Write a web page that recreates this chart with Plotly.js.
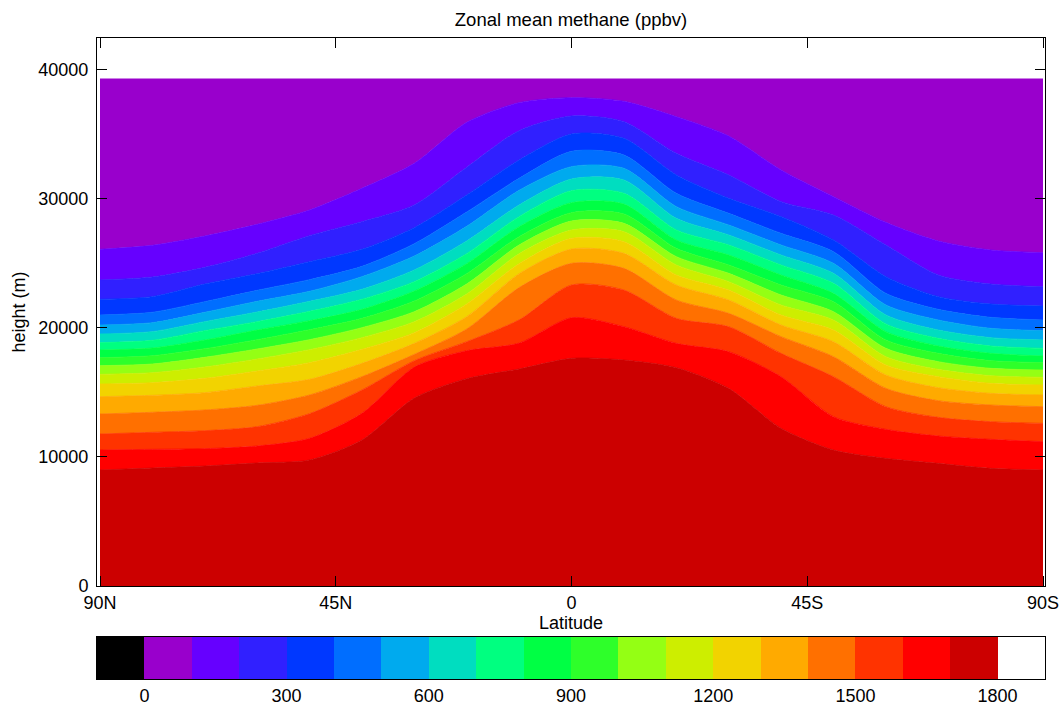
<!DOCTYPE html>
<html><head><meta charset="utf-8">
<script src="https://cdn.plot.ly/plotly-3.0.1.min.js"></script>
<style>html,body{margin:0;padding:0;background:#fff}#chart{width:1063px;height:705px}</style>
</head><body><div id="chart"></div>
<script>
// Latitudes (degrees north; negative = south)
const latitudes = [90, 80, 70, 60, 50, 40, 30, 20, 10, 0, -10, -20, -30, -40, -50, -60, -70, -80, -90];
// Contour levels (ppbv) whose isoline heights are listed per latitude below
const levels = [100, 200, 300, 400, 500, 600, 700, 800, 900, 1000, 1100, 1200, 1300, 1400, 1500, 1600, 1700];
// Height (m) of each isoline (levels 100 ... 1700) at each latitude
const lat90N = [26058, 23684, 22188, 20975, 20201, 19504, 18834, 18266, 17673, 17053, 16383, 15634, 14654, 13312, 11764, 10526, 8978];
const lat80N = [26367, 23916, 22395, 21185, 20380, 19685, 19015, 18420, 17825, 17180, 16510, 15735, 14760, 13445, 11895, 10578, 9133];
const lat70N = [27090, 24664, 23375, 22007, 21181, 20459, 19762, 19040, 18369, 17698, 16950, 16073, 14964, 13622, 12022, 10629, 9288];
const lat60N = [27993, 25748, 24174, 22885, 22033, 21207, 20459, 19814, 19066, 18343, 17569, 16641, 15480, 13983, 12332, 10836, 9520];
const lat50N = [29102, 27115, 25103, 23710, 22807, 22033, 21259, 20536, 19840, 19066, 18292, 17286, 15996, 14783, 13338, 11429, 9752];
const lat40N = [30779, 28199, 26058, 24742, 23942, 22962, 22188, 21414, 20717, 19995, 19221, 18318, 17234, 16202, 15170, 13364, 11300];
const lat30N = [32714, 29489, 27735, 26496, 25542, 24458, 23555, 22833, 22059, 21233, 20459, 19608, 18782, 17930, 17440, 16950, 14550];
const lat20N = [35887, 32404, 30263, 28947, 27838, 26703, 25722, 24948, 24174, 23374, 22600, 21826, 20846, 19891, 18911, 18214, 16050];
const lat10N = [37410, 35242, 32972, 31553, 30624, 29489, 28586, 27812, 27038, 26393, 25722, 24948, 24174, 23100, 20600, 18800, 16800];
const lat00  = [37797, 36378, 34984, 33643, 32456, 31501, 30598, 29670, 28896, 28251, 27554, 26909, 26083, 24974, 23297, 20769, 17621];
const lat10S = [37513, 35939, 34649, 33359, 32327, 31424, 30392, 29566, 28792, 28070, 27425, 26651, 25748, 24587, 22910, 20072, 17492];
const lat20S = [36326, 33488, 31811, 30392, 29360, 28457, 27554, 26780, 26135, 25490, 24845, 24071, 23297, 22136, 20717, 18782, 16899];
const lat30S = [34830, 31811, 30005, 28844, 27941, 27167, 26393, 25619, 24845, 24200, 23555, 22910, 22136, 21104, 20072, 18137, 15299];
const lat40S = [32198, 29747, 28586, 27296, 26393, 25619, 24845, 24071, 23297, 22523, 21749, 20975, 20201, 19298, 18008, 16202, 12203];
const lat50S = [30134, 28715, 26780, 25877, 24974, 24200, 23426, 22652, 22007, 21233, 20588, 19814, 18911, 17750, 16202, 13106, 10526];
const lat60S = [28147, 26393, 23942, 22652, 21749, 20975, 20278, 19685, 19040, 18395, 17750, 17105, 16331, 15299, 13880, 12126, 9881];
const lat70S = [26703, 24071, 22394, 21414, 20588, 19814, 19169, 18576, 18008, 17363, 16770, 16202, 15351, 14344, 13054, 11610, 9494];
const lat80S = [26006, 23374, 21826, 20794, 19943, 19221, 18576, 18008, 17440, 16847, 16279, 15686, 14912, 14009, 12719, 11352, 9107];
const lat90S = [25800, 23168, 21672, 20588, 19762, 19040, 18395, 17802, 17286, 16718, 16150, 15557, 14783, 13880, 12590, 11171, 8980];
// Top of the model grid (m)
const modelTop = 39250;

// Fill colours for bands 0-100, 100-200, ..., 1700-1800
const bandColors = ['#9900CC', '#6600FF', '#3020FF', '#0038FF', '#006EFF', '#00AAEE', '#00DDC0', '#00FF80',
  '#00FF44', '#2EFF2A', '#94FF14', '#CDEE00', '#F2D300', '#FFAA00', '#FF7000', '#FF3300', '#FF0000', '#CC0000'];
const underColor = '#000000';
const overColor = '#FFFFFF';
// Colour bar
const cbEdges = [-100, 0, 100, 200, 300, 400, 500, 600, 700, 800, 900, 1000, 1100, 1200, 1300, 1400, 1500, 1600, 1700, 1800, 1900];
const cbTicks = [0, 300, 600, 900, 1200, 1500, 1800];
// Axis ticks
const latTickVals = [90, 45, 0, -45, -90];
const latTickText = ['90N', '45N', '0', '45S', '90S'];
const heightTicks = [0, 10000, 20000, 30000, 40000];

const columns = [lat90N, lat80N, lat70N, lat60N, lat50N, lat40N, lat30N, lat20N, lat10N, lat00,
  lat10S, lat20S, lat30S, lat40S, lat50S, lat60S, lat70S, lat80S, lat90S];

const traces = [];
for (let k = levels.length - 1; k >= 0; k--) {
  traces.push({
    type: 'scatter', mode: 'lines', x: latitudes, y: columns.map(c => c[k]),
    line: {width: 0.8, color: bandColors[k + 1], shape: 'spline', smoothing: 0.75},
    fill: k === levels.length - 1 ? 'tozeroy' : 'tonexty',
    fillcolor: bandColors[k + 1], hoverinfo: 'skip', xaxis: 'x', yaxis: 'y'
  });
}
traces.push({
  type: 'scatter', mode: 'lines', x: latitudes, y: latitudes.map(() => modelTop),
  line: {width: 0.8, color: bandColors[0]}, fill: 'tonexty', fillcolor: bandColors[0],
  hoverinfo: 'skip', xaxis: 'x', yaxis: 'y'
});

// colour bar as a heatmap on its own axes
const cbColors = [underColor].concat(bandColors, [overColor]);
const cbIdx = cbColors.map((c, i) => i);
const cs = [];
cbColors.forEach((c, i) => { cs.push([i / cbColors.length, c]); cs.push([(i + 1) / cbColors.length, c]); });
traces.push({
  type: 'heatmap', x: cbEdges, y: [0, 1], z: [cbIdx], zmin: -0.5, zmax: cbColors.length - 0.5,
  colorscale: cs, showscale: false, hoverinfo: 'skip', xaxis: 'x2', yaxis: 'y2'
});

const font = 'Liberation Sans, Arial, Helvetica, sans-serif';
const layout = {
  width: 1063, height: 705,
  margin: {l: 97, r: 18, t: 38, b: 26, pad: 0},
  paper_bgcolor: '#ffffff', plot_bgcolor: '#ffffff',
  font: {family: font, size: 18, color: '#000'},
  showlegend: false,
  title: {text: 'Zonal mean methane (ppbv)', x: 0.5, xref: 'paper', xanchor: 'center',
    y: 1 - 20 / 705, yref: 'container', yanchor: 'middle', font: {size: 18.5, family: font, color: '#000'}},
  xaxis: {
    domain: [0, 1], anchor: 'y', range: [90.573, -90.382],
    tickmode: 'array', tickvals: latTickVals, ticktext: latTickText,
    ticks: 'inside', ticklen: 10, tickwidth: 1, tickcolor: '#000',
    showline: true, linecolor: '#000', linewidth: 1, mirror: 'ticks',
    showgrid: false, zeroline: false, tickfont: {size: 18},
    title: {text: 'Latitude', font: {size: 18}, standoff: 3}
  },
  yaxis: {
    domain: [0.14509, 1], anchor: 'x', range: [0, 42415],
    tickmode: 'array', tickvals: heightTicks, tickformat: 'd',
    ticks: 'inside', ticklen: 10, tickwidth: 1, tickcolor: '#000',
    showline: true, linecolor: '#000', linewidth: 1, mirror: 'ticks',
    showgrid: false, zeroline: false, tickfont: {size: 18}, ticklabelstandoff: 4,
    title: {text: 'height (m)', font: {size: 18}, standoff: 8}
  },
  xaxis2: {
    domain: [0, 1], anchor: 'y2', range: [-100, 1900],
    tickmode: 'array', tickvals: cbTicks, ticks: '',
    showline: true, linecolor: '#000', linewidth: 1, mirror: true,
    showgrid: false, zeroline: false, tickfont: {size: 18}, ticklabelstandoff: 0
  },
  yaxis2: {
    domain: [0, 0.06552], anchor: 'x2', range: [0, 1],
    showticklabels: false, ticks: '', showline: true, linecolor: '#000', linewidth: 1, mirror: true,
    showgrid: false, zeroline: false
  }
};

Plotly.newPlot('chart', traces, layout, {displayModeBar: false, staticPlot: true});
</script>
</body></html>
